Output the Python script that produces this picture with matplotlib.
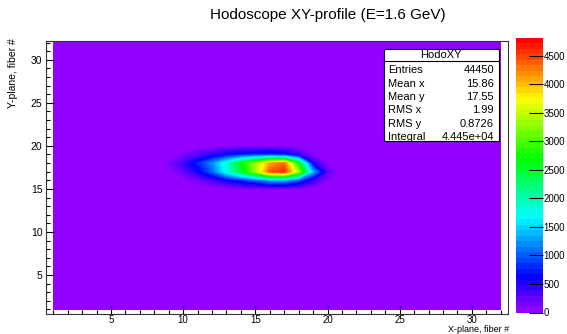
import numpy as np
import matplotlib
matplotlib.use('Agg')
import matplotlib.pyplot as plt
from matplotlib.colors import ListedColormap
from matplotlib.patches import Rectangle
from matplotlib.lines import Line2D
from matplotlib.ticker import MultipleLocator
import colorsys

plt.rcParams['font.family'] = ['Liberation Sans', 'DejaVu Sans']

# ---------------- data ----------------
n_fibers = 32
block_x = [9, 10, 11, 12, 13, 14, 15, 16, 17, 18, 19, 20, 21]
block_y = [15, 16, 17, 18, 19, 20]
row_y15 = [0, 0, 0, 10, 30, 50, 70, 90, 90, 60, 20, 0, 0]
row_y16 = [0, 40, 140, 320, 550, 750, 950, 1250, 1250, 900, 400, 80, 0]
row_y17 = [40, 220, 550, 1000, 1750, 2450, 3300, 4400, 4600, 3300, 1300, 250, 20]
row_y18 = [110, 380, 750, 1200, 1800, 2600, 3300, 4050, 4300, 2600, 500, 50, 0]
row_y19 = [20, 110, 270, 430, 600, 700, 750, 780, 700, 400, 100, 0, 0]
row_y20 = [0, 0, 0, 20, 50, 70, 80, 80, 60, 30, 0, 0, 0]
block_rows = [row_y15, row_y16, row_y17, row_y18, row_y19, row_y20]
z_max = 4810
cbar_ticks = [0, 500, 1000, 1500, 2000, 2500, 3000, 3500, 4000, 4500]
stats_labels = ["Entries", "Mean x", "Mean y", "RMS x", "RMS y", "Integral"]
stats_values = ["44450", "15.86", "17.55", "1.99", "0.8726", "4.445e+04"]
title = "Hodoscope XY-profile (E=1.6 GeV)"
xlabel = "X-plane, fiber #"
ylabel = "Y-plane, fiber #"
hist_name = "HodoXY"

# ---------------- grid ----------------
fibers = np.arange(1, n_fibers + 1)
Z = np.zeros((n_fibers, n_fibers))
for yv, row in zip(block_y, block_rows):
    for xv, val in zip(block_x, row):
        Z[yv - 1, xv - 1] = val

# ROOT "pretty" palette (SetPalette(1))
cols = []
for i in range(49):
    hue = 280 - (i + 1) * (280 / 50)
    cols.append(colorsys.hls_to_rgb(hue / 360, 0.5, 1.0))
cols.append((1, 0, 0))
cmap = ListedColormap(cols)

W, H = 567, 334
fig = plt.figure(figsize=(W / 100, H / 100), dpi=100)
fig.patch.set_facecolor('white')

def fx(X):
    return X / W

def fy(Y):
    return 1 - Y / H

ax = fig.add_axes([fx(46), fy(314), fx(508) - fx(46), fy(40.5) - fy(314)])
levels = np.linspace(0, z_max, 51)
cs = ax.contourf(fibers, fibers, Z, levels=levels, cmap=cmap, antialiased=False)
ax.set_xlim(0.5, 32.5)
ax.set_ylim(0.47, 32.24)
ax.xaxis.set_major_locator(MultipleLocator(5))
ax.xaxis.set_minor_locator(MultipleLocator(1))
ax.yaxis.set_major_locator(MultipleLocator(5))
ax.yaxis.set_minor_locator(MultipleLocator(1))
ax.tick_params(which='both', direction='in', top=False, right=False, width=0.8)
ax.tick_params(which='major', length=6, labelsize=7.5, pad=2.5)
ax.tick_params(axis='x', which='major', labelsize=7, pad=0.5)
ax.tick_params(which='minor', length=3)
for s in ax.spines.values():
    s.set_linewidth(0.8)
    s.set_color('#333333')

# colorbar
cax = fig.add_axes([fx(516), fy(312.5), fx(543) - fx(516), fy(38) - fy(312.5)])
cb = fig.colorbar(cs, cax=cax, ticks=cbar_ticks)
cb.outline.set_visible(False)
cb.minorticks_off()
cax.tick_params(direction='in', length=10, width=0.8, labelsize=7, pad=0.5, right=True)

# title and axis titles
fig.text(fx(328), fy(15), title, ha='center', va='center', fontsize=11)
fig.text(fx(509), fy(333.8), xlabel, ha='right', va='bottom', fontsize=6.5)
fig.text(fx(13), fy(38), ylabel, ha='center', va='top', rotation=90, fontsize=7.5)

# stats box
bx0, bx1, by0, by1 = 383.5, 498.5, 48.5, 141.5
fig.add_artist(Rectangle((fx(bx0), fy(by1)), fx(bx1) - fx(bx0), fy(by0) - fy(by1),
                         transform=fig.transFigure, facecolor='white',
                         edgecolor='black', linewidth=0.8, zorder=5))
fig.add_artist(Line2D([fx(bx0), fx(bx1)], [fy(60.5), fy(60.5)],
                      transform=fig.transFigure, color='black', linewidth=0.8, zorder=6))
fig.text(fx((bx0 + bx1) / 2), fy(54.5), hist_name, ha='center', va='center',
         fontsize=8, zorder=7)
for k, (lab, val) in enumerate(zip(stats_labels, stats_values)):
    yy = 70.3 + k * 13.3
    fig.text(fx(388), fy(yy), lab, ha='left', va='center', fontsize=8, zorder=7)
    fig.text(fx(494), fy(yy), val, ha='right', va='center', fontsize=8, zorder=7)

fig.savefig('out.png', dpi=100)
